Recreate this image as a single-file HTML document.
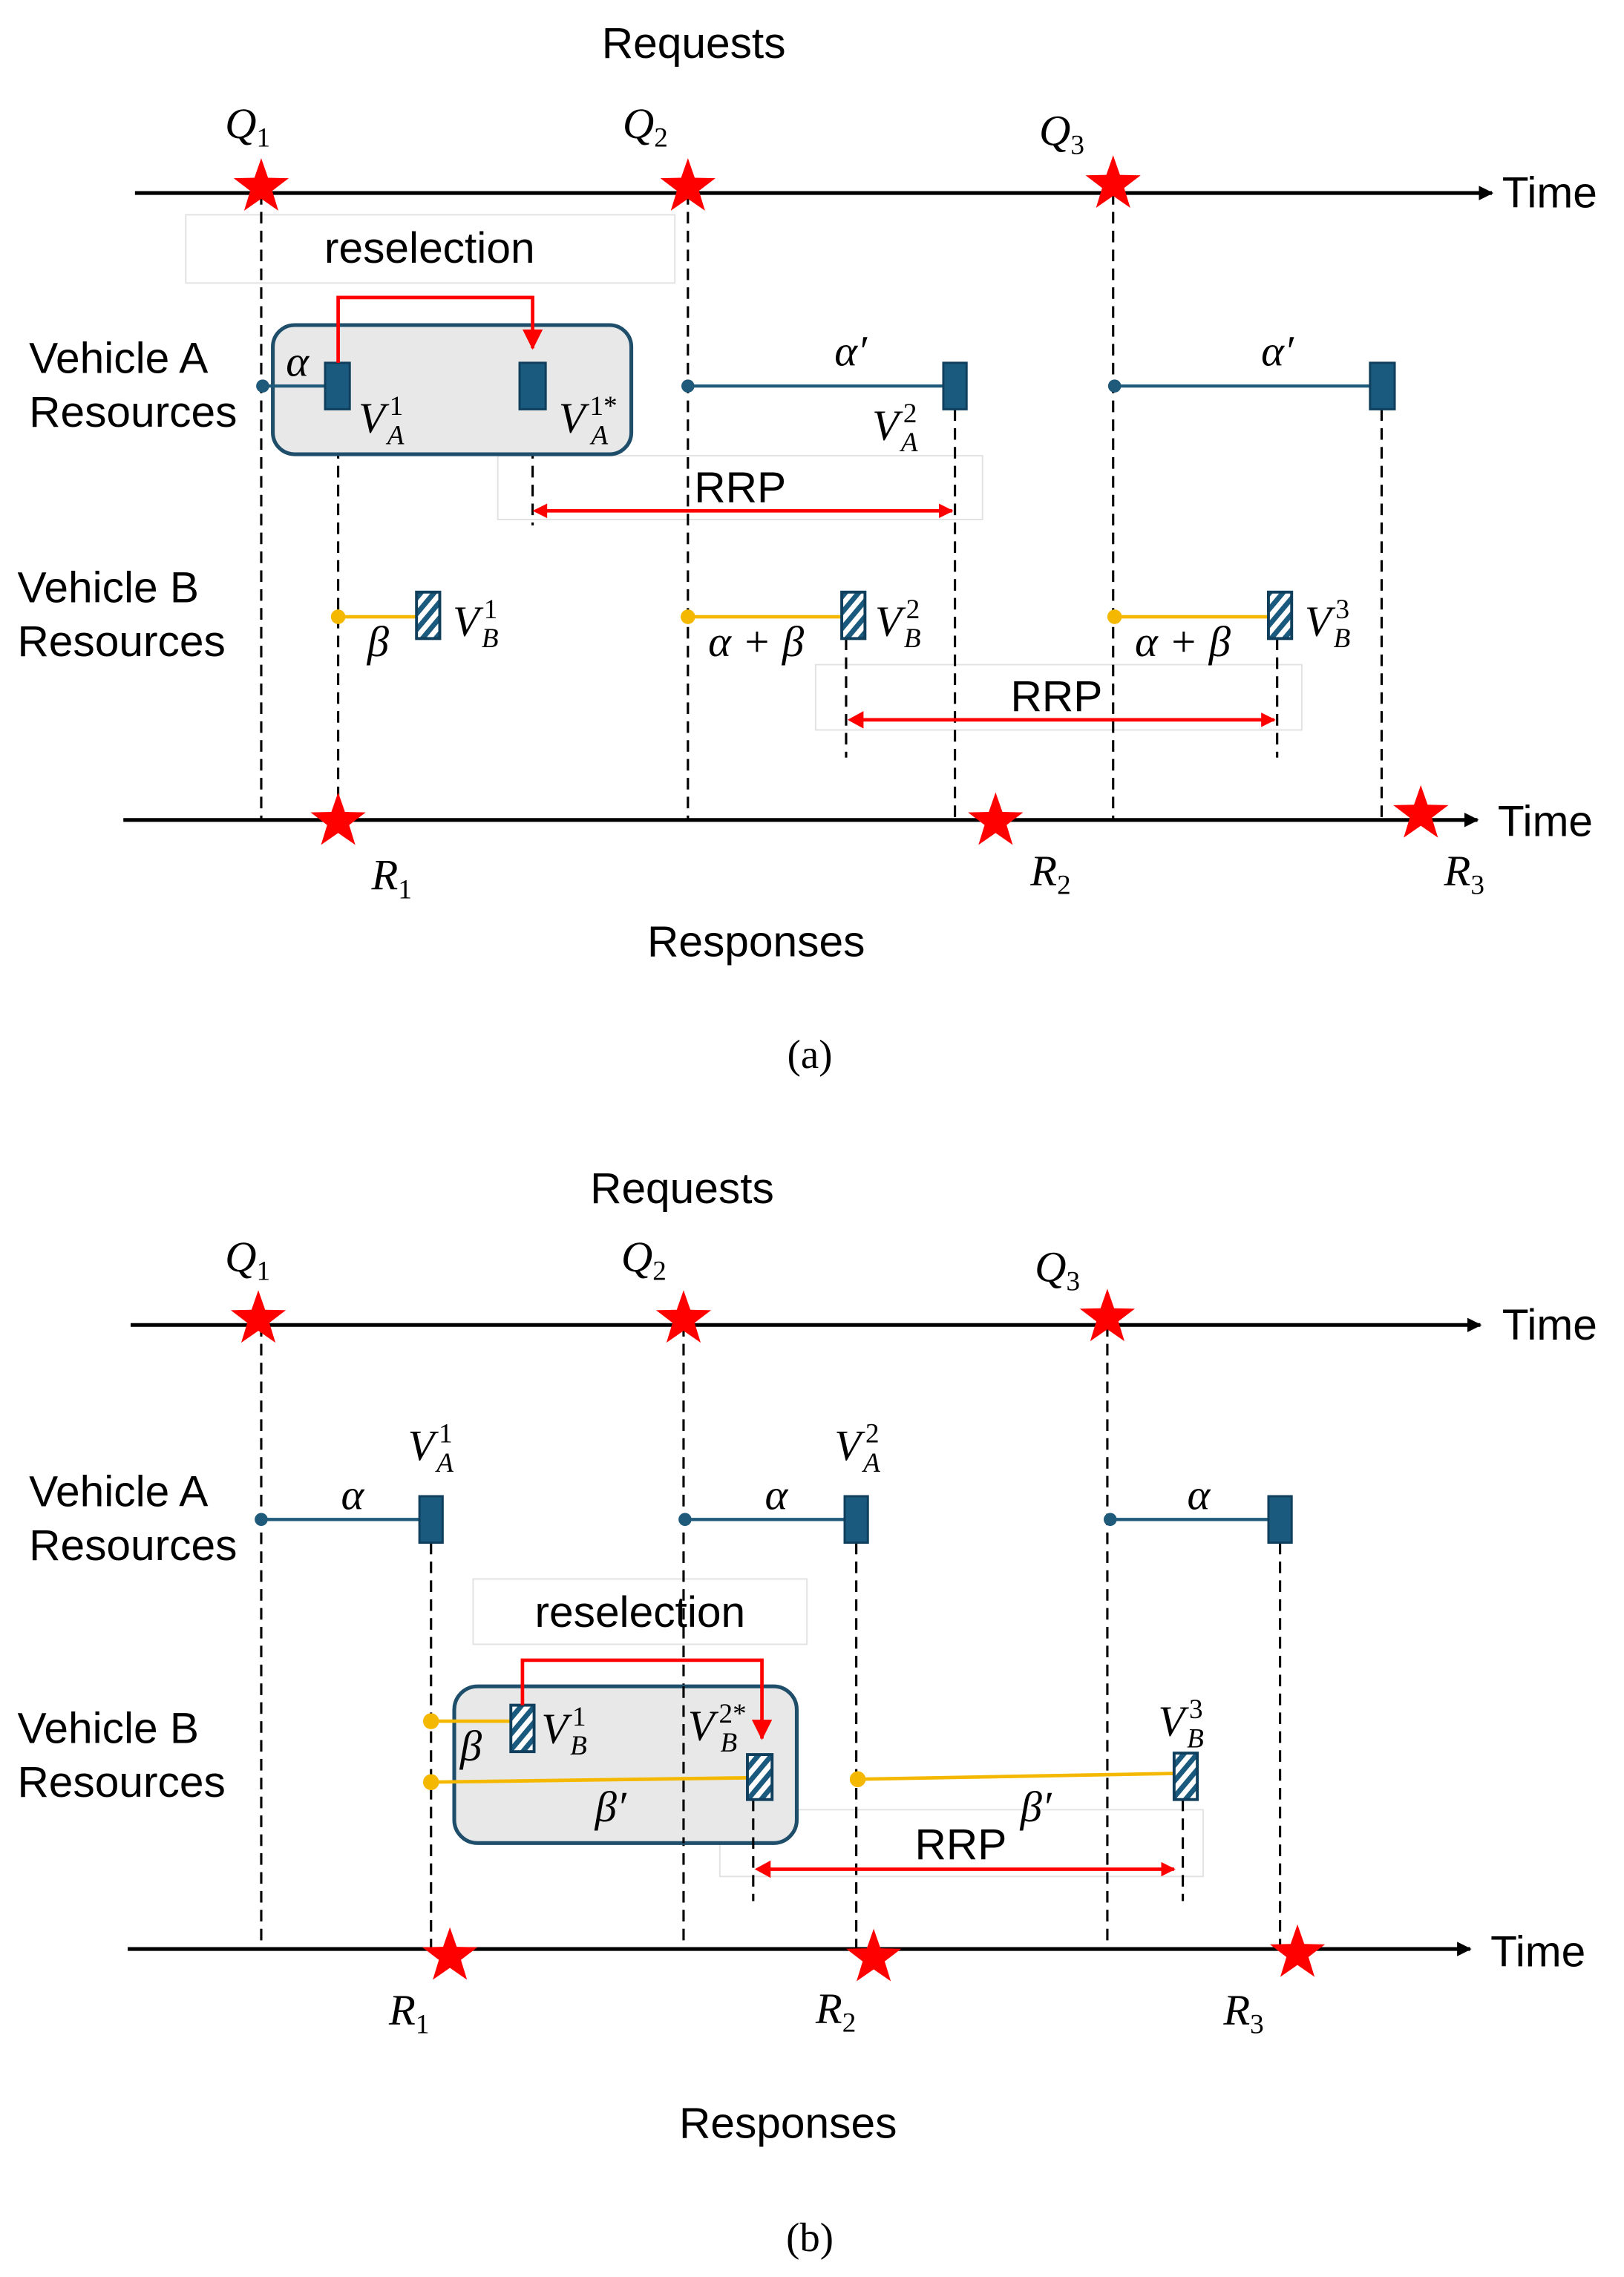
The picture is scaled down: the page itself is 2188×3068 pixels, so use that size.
<!DOCTYPE html>
<html><head><meta charset="utf-8"><style>
html,body{margin:0;padding:0;background:#fff;}
svg{display:block;}
.s{font-family:"Liberation Sans",sans-serif;font-size:30px;fill:#000;}
.m{font-family:"Liberation Serif","DejaVu Serif",serif;font-style:italic;font-size:30px;fill:#000;}
.sub{font-size:19px;}
.n{font-style:normal;}
.d{stroke:#000;stroke-width:1.6;stroke-dasharray:8,5;fill:none;}
.ax{stroke:#000;stroke-width:2.6;}
.bl{stroke:#1f5a7a;stroke-width:2.2;}
.yl{stroke:#f5b800;stroke-width:2.4;}
.rr{fill:#1a5a7e;stroke:#0f3f5c;stroke-width:1.5;}
.hr{fill:url(#hatch);stroke:#0f3f5c;stroke-width:2;}
.bx{fill:#fff;stroke:#e2e2e2;stroke-width:1;}
.red{stroke:#ff0000;stroke-width:2.4;fill:none;}
</style></head><body>
<svg width="2188" height="3068" viewBox="0 0 1119 1569" preserveAspectRatio="none" xmlns="http://www.w3.org/2000/svg">
<defs>
<pattern id="hatch" width="7" height="7" patternUnits="userSpaceOnUse" patternTransform="rotate(40)">
<rect width="7" height="7" fill="#fff"/><rect width="3.5" height="7" fill="#1a5a7e"/>
</pattern>
<path id="star" d="M0,-20 L4.7,-6.5 L19,-6.2 L7.6,2.5 L11.8,16.2 L0,8 L-11.8,16.2 L-7.6,2.5 L-19,-6.2 L-4.7,-6.5 Z" fill="#ff0000"/>
<marker id="ah" markerWidth="10" markerHeight="10" refX="9" refY="5" orient="auto" markerUnits="userSpaceOnUse"><path d="M0,0 L10,5 L0,10 Z" fill="#ff0000"/></marker>
<marker id="ah2" markerWidth="14" markerHeight="14" refX="13" refY="7" orient="auto" markerUnits="userSpaceOnUse"><path d="M0,0 L14,7 L0,14 Z" fill="#ff0000"/></marker>
<marker id="bk" markerWidth="10" markerHeight="10" refX="9" refY="5" orient="auto" markerUnits="userSpaceOnUse"><path d="M0,0 L10,5 L0,10 Z" fill="#000"/></marker>
</defs>

<!-- ===== Panel (a) ===== -->
<text class="s" x="478" y="40" text-anchor="middle">Requests</text>
<line class="ax" x1="93" y1="133" x2="1028" y2="133" marker-end="url(#bk)"/>
<text class="s" x="1035" y="143">Time</text>
<text class="m" x="155" y="95">Q<tspan class="sub n" dy="6">1</tspan></text>
<text class="m" x="429" y="95">Q<tspan class="sub n" dy="6">2</tspan></text>
<text class="m" x="716" y="100">Q<tspan class="sub n" dy="6">3</tspan></text>

<rect class="bx" x="128" y="148" width="337" height="47"/>
<text class="s" x="296" y="181" text-anchor="middle">reselection</text>
<rect class="bx" x="343" y="314" width="334" height="44"/>
<rect class="bx" x="562" y="458" width="335" height="45"/>

<line class="d" x1="180" y1="133" x2="180" y2="565"/>
<line class="d" x1="474" y1="133" x2="474" y2="565"/>
<line class="d" x1="767" y1="133" x2="767" y2="565"/>
<line class="d" x1="233" y1="282" x2="233" y2="565"/>
<line class="d" x1="367" y1="282" x2="367" y2="362"/>
<line class="d" x1="658" y1="282" x2="658" y2="565"/>
<line class="d" x1="952" y1="282" x2="952" y2="565"/>
<line class="d" x1="583" y1="440" x2="583" y2="522"/>
<line class="d" x1="880" y1="440" x2="880" y2="522"/>

<use href="#star" x="180" y="129"/>
<use href="#star" x="474" y="129"/>
<use href="#star" x="767" y="127"/>

<rect x="188" y="224" width="247" height="89" rx="15" fill="#e8e8e8" stroke="#1f4e6b" stroke-width="2.6"/>
<text class="s" x="20" y="257">Vehicle A</text>
<text class="s" x="20" y="294">Resources</text>
<text class="s" x="12" y="415">Vehicle B</text>
<text class="s" x="12" y="452">Resources</text>

<circle cx="181" cy="266" r="4.5" fill="#1f5a7a"/>
<line class="bl" x1="181" y1="266" x2="226" y2="266"/>
<rect class="rr" x="224" y="250" width="17" height="32"/>
<rect class="rr" x="358" y="250" width="18" height="32"/>
<polyline class="red" points="233,250 233,205 367,205 367,240" marker-end="url(#ah2)"/>
<text class="m" x="197" y="259">α</text>
<text class="m" x="247" y="298">V<tspan class="sub n" dx="3" dy="-12">1</tspan><tspan class="sub" dx="-11" dy="20">A</tspan></text>
<text class="m" x="385" y="298">V<tspan class="sub n" dx="3" dy="-12">1*</tspan><tspan class="sub" dx="-18" dy="20">A</tspan></text>

<circle cx="474" cy="266" r="4.5" fill="#1f5a7a"/>
<line class="bl" x1="474" y1="266" x2="651" y2="266"/>
<rect class="rr" x="650" y="250" width="16" height="32"/>
<text class="m" x="575" y="252">α′</text>
<text class="m" x="601" y="303">V<tspan class="sub n" dx="3" dy="-12">2</tspan><tspan class="sub" dx="-11" dy="20">A</tspan></text>

<circle cx="768" cy="266" r="4.5" fill="#1f5a7a"/>
<line class="bl" x1="768" y1="266" x2="945" y2="266"/>
<rect class="rr" x="944" y="250" width="17" height="32"/>
<text class="m" x="869" y="252">α′</text>

<text class="s" x="510" y="346" text-anchor="middle">RRP</text>
<line class="red" x1="369" y1="352" x2="656" y2="352" marker-end="url(#ah)"/>
<path d="M367,352 L377,347 L377,357 Z" fill="#ff0000"/>

<circle cx="233" cy="425" r="5" fill="#f5b800"/>
<line class="yl" x1="233" y1="425" x2="288" y2="425"/>
<rect class="hr" x="287" y="408" width="16" height="32"/>
<text class="m" x="253" y="452">β</text>
<text class="m" x="312" y="438">V<tspan class="sub n" dx="3" dy="-12">1</tspan><tspan class="sub" dx="-11" dy="20">B</tspan></text>

<circle cx="474" cy="425" r="5" fill="#f5b800"/>
<line class="yl" x1="474" y1="425" x2="581" y2="425"/>
<rect class="hr" x="580" y="408" width="16" height="32"/>
<text class="m" x="488" y="452">α + β</text>
<text class="m" x="603" y="438">V<tspan class="sub n" dx="3" dy="-12">2</tspan><tspan class="sub" dx="-11" dy="20">B</tspan></text>

<circle cx="768" cy="425" r="5" fill="#f5b800"/>
<line class="yl" x1="768" y1="425" x2="875" y2="425"/>
<rect class="hr" x="874" y="408" width="16" height="32"/>
<text class="m" x="782" y="452">α + β</text>
<text class="m" x="899" y="438">V<tspan class="sub n" dx="3" dy="-12">3</tspan><tspan class="sub" dx="-11" dy="20">B</tspan></text>

<text class="s" x="728" y="490" text-anchor="middle">RRP</text>
<line class="red" x1="593" y1="496" x2="878" y2="496" marker-end="url(#ah)"/>
<path d="M584,496 L595,490 L595,502 Z" fill="#ff0000"/>

<line class="ax" x1="85" y1="565" x2="1018" y2="565" marker-end="url(#bk)"/>
<text class="s" x="1032" y="576">Time</text>
<use href="#star" x="233" y="566"/>
<use href="#star" x="686" y="566"/>
<use href="#star" x="979" y="561"/>
<text class="m" x="256" y="613">R<tspan class="sub n" dy="6">1</tspan></text>
<text class="m" x="710" y="610">R<tspan class="sub n" dy="6">2</tspan></text>
<text class="m" x="995" y="610">R<tspan class="sub n" dy="6">3</tspan></text>
<text class="s" x="521" y="659" text-anchor="middle">Responses</text>
<text x="558" y="736" text-anchor="middle" style="font-family:'Liberation Serif',serif;font-size:28px;">(a)</text>

<!-- ===== Panel (b) ===== -->
<text class="s" x="470" y="829" text-anchor="middle">Requests</text>
<line class="ax" x1="90" y1="913" x2="1020" y2="913" marker-end="url(#bk)"/>
<text class="s" x="1035" y="923">Time</text>
<text class="m" x="155" y="876">Q<tspan class="sub n" dy="6">1</tspan></text>
<text class="m" x="428" y="876">Q<tspan class="sub n" dy="6">2</tspan></text>
<text class="m" x="713" y="883">Q<tspan class="sub n" dy="6">3</tspan></text>

<rect class="bx" x="326" y="1088" width="230" height="45"/>
<text class="s" x="441" y="1121" text-anchor="middle">reselection</text>
<rect class="bx" x="496" y="1247" width="333" height="46"/>

<line class="d" x1="180" y1="913" x2="180" y2="1343"/>
<line class="d" x1="471" y1="913" x2="471" y2="1343"/>
<line class="d" x1="763" y1="913" x2="763" y2="1343"/>
<line class="d" x1="297" y1="1063" x2="297" y2="1343"/>
<line class="d" x1="590" y1="1063" x2="590" y2="1343"/>
<line class="d" x1="882" y1="1063" x2="882" y2="1343"/>

<use href="#star" x="178" y="909"/>
<use href="#star" x="471" y="909"/>
<use href="#star" x="763" y="908"/>

<text class="s" x="20" y="1038">Vehicle A</text>
<text class="s" x="20" y="1075">Resources</text>
<text class="s" x="12" y="1201">Vehicle B</text>
<text class="s" x="12" y="1238">Resources</text>

<circle cx="180" cy="1047" r="4.5" fill="#1f5a7a"/>
<line class="bl" x1="180" y1="1047" x2="290" y2="1047"/>
<rect class="rr" x="289" y="1031" width="16" height="32"/>
<text class="m" x="235" y="1040">α</text>
<text class="m" x="281" y="1006">V<tspan class="sub n" dx="3" dy="-12">1</tspan><tspan class="sub" dx="-11" dy="20">A</tspan></text>

<circle cx="472" cy="1047" r="4.5" fill="#1f5a7a"/>
<line class="bl" x1="472" y1="1047" x2="583" y2="1047"/>
<rect class="rr" x="582" y="1031" width="16" height="32"/>
<text class="m" x="527" y="1040">α</text>
<text class="m" x="575" y="1006">V<tspan class="sub n" dx="3" dy="-12">2</tspan><tspan class="sub" dx="-11" dy="20">A</tspan></text>

<circle cx="765" cy="1047" r="4.5" fill="#1f5a7a"/>
<line class="bl" x1="765" y1="1047" x2="875" y2="1047"/>
<rect class="rr" x="874" y="1031" width="16" height="32"/>
<text class="m" x="818" y="1040">α</text>

<rect x="313" y="1162" width="236" height="108" rx="16" fill="#e8e8e8" stroke="#1f4e6b" stroke-width="2.6"/>
<line class="d" x1="471" y1="1162" x2="471" y2="1270"/>
<line class="d" x1="519" y1="1240" x2="519" y2="1310"/>
<line class="d" x1="815" y1="1240" x2="815" y2="1310"/>

<circle cx="297" cy="1186" r="5.5" fill="#f5b800"/>
<line class="yl" x1="297" y1="1186" x2="353" y2="1186"/>
<rect class="hr" x="352" y="1175" width="16" height="32"/>
<text class="m" x="317" y="1213">β</text>
<text class="m" x="373" y="1201">V<tspan class="sub n" dx="3" dy="-12">1</tspan><tspan class="sub" dx="-11" dy="20">B</tspan></text>

<circle cx="297" cy="1228" r="5.5" fill="#f5b800"/>
<line class="yl" x1="297" y1="1228" x2="516" y2="1225"/>
<rect class="hr" x="515" y="1209" width="17" height="31"/>
<text class="m" x="410" y="1255">β′</text>
<text class="m" x="474" y="1199">V<tspan class="sub n" dx="3" dy="-12">2*</tspan><tspan class="sub" dx="-18" dy="20">B</tspan></text>
<polyline class="red" points="360,1175 360,1144 525,1144 525,1198" marker-end="url(#ah2)"/>

<circle cx="591" cy="1226" r="5.5" fill="#f5b800"/>
<line class="yl" x1="591" y1="1226" x2="810" y2="1222"/>
<rect class="hr" x="809" y="1208" width="16" height="32"/>
<text class="m" x="703" y="1255">β′</text>
<text class="m" x="798" y="1196">V<tspan class="sub n" dx="3" dy="-12">3</tspan><tspan class="sub" dx="-11" dy="20">B</tspan></text>

<text class="s" x="662" y="1281" text-anchor="middle">RRP</text>
<line class="red" x1="529" y1="1288" x2="809" y2="1288" marker-end="url(#ah)"/>
<path d="M520,1288 L531,1282 L531,1294 Z" fill="#ff0000"/>

<line class="ax" x1="88" y1="1343" x2="1013" y2="1343" marker-end="url(#bk)"/>
<text class="s" x="1027" y="1355">Time</text>
<use href="#star" x="310" y="1348"/>
<use href="#star" x="602" y="1349"/>
<use href="#star" x="894" y="1346"/>
<text class="m" x="268" y="1395">R<tspan class="sub n" dy="6">1</tspan></text>
<text class="m" x="562" y="1394">R<tspan class="sub n" dy="6">2</tspan></text>
<text class="m" x="843" y="1395">R<tspan class="sub n" dy="6">3</tspan></text>
<text class="s" x="543" y="1473" text-anchor="middle">Responses</text>
<text x="558" y="1551" text-anchor="middle" style="font-family:'Liberation Serif',serif;font-size:28px;">(b)</text>
</svg>
</body></html>
